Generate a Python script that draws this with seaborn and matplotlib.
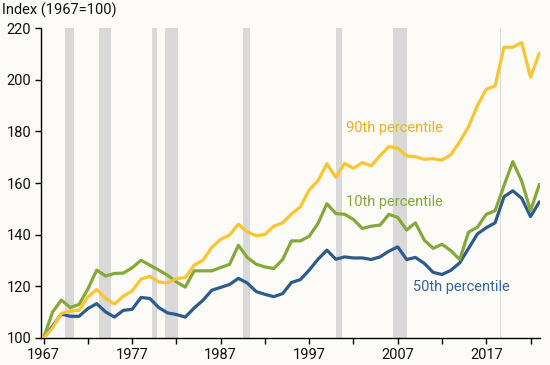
import numpy as np
import pandas as pd
import matplotlib
matplotlib.use("Agg")
import matplotlib.pyplot as plt
import seaborn as sns

# index values (1967=100)
years = list(range(1967, 2024))
p90 = [100, 103.9, 109.5, 110.4, 110.7, 115.9, 118.8, 115.3, 113.1, 116.2,
       118.2, 122.8, 123.9, 121.7, 121.3, 123.0, 123.4, 128.2, 130.1, 135.1,
       138.2, 139.8, 144.1, 141.1, 139.6, 140.1, 143.3, 144.6, 148.0, 150.8,
       157.3, 160.9, 167.5, 162.2, 167.6, 165.7, 167.9, 166.7, 170.6, 174.1,
       173.5, 170.5, 170.2, 169.2, 169.4, 168.9, 171.0, 176.0, 181.8, 190.0,
       196.3, 197.6, 212.6, 212.6, 214.4, 201.0, 210.3]
p10 = [100, 110.0, 114.7, 111.8, 113.0, 119.0, 126.3, 124.0, 125.0, 125.1,
       127.2, 130.1, 128.2, 126.3, 124.3, 121.7, 119.7, 126.0, 126.0, 126.0,
       127.3, 128.5, 135.9, 131.2, 128.6, 127.5, 126.9, 130.4, 137.6, 137.6,
       139.4, 144.4, 152.0, 148.2, 147.9, 145.9, 142.4, 143.3, 143.7, 147.9,
       146.7, 141.8, 144.6, 137.9, 134.7, 136.3, 133.8, 130.4, 141.0, 142.9,
       147.9, 149.3, 159.0, 168.3, 160.8, 149.3, 159.5]
p50 = [100, 104.5, 109.3, 108.4, 108.4, 111.4, 113.3, 110.1, 108.1, 110.7,
       111.1, 115.7, 115.3, 111.8, 109.7, 109.1, 108.1, 111.6, 114.6, 118.5,
       119.6, 120.7, 123.1, 121.3, 118.0, 116.9, 116.0, 117.2, 121.5, 122.6,
       126.3, 130.5, 134.0, 130.5, 131.4, 131.0, 131.0, 130.4, 131.4, 133.6,
       135.3, 130.4, 131.2, 128.9, 125.4, 124.6, 126.2, 129.1, 134.7, 140.3,
       142.7, 144.6, 154.7, 157.0, 154.1, 147.0, 152.7]

# shaded recession periods as placed on the chart's axis
rec_start = [1969.45, 1973.25, 1979.25, 1980.7, 1989.5, 2000.0, 2006.5, 2018.5]
rec_end = [1970.45, 1974.6, 1979.8, 1982.2, 1990.3, 2000.65, 2008.05, 2018.7]

series = ["10th percentile", "50th percentile", "90th percentile"]
colors = {"90th percentile": "#FBC531", "10th percentile": "#84A83A",
          "50th percentile": "#2D5B8A"}
label_colors = {"90th percentile": "#EDB021", "10th percentile": "#84A83A",
                "50th percentile": "#3A6592"}
label_pos = {"90th percentile": (2001.1, 181.2),
             "10th percentile": (2001.2, 152.7),
             "50th percentile": (2008.7, 119.7)}

df = pd.DataFrame({"year": years, "90th percentile": p90,
                   "10th percentile": p10, "50th percentile": p50})
long = df.melt(id_vars="year", var_name="series", value_name="index")

sns.set_style("ticks")
plt.rcParams["font.family"] = ["Roboto", "DejaVu Sans"]
bg = "#FCFBF7"

fig = plt.figure(figsize=(5.5, 3.65), dpi=100, facecolor=bg)
ax = fig.add_axes([0.0745, 0.074, 0.907, 0.849], facecolor=bg)

for s, e in zip(rec_start, rec_end):
    ax.axvspan(s, e, color="#D9D9D9", lw=0, zorder=0)

sns.lineplot(data=long, x="year", y="index", hue="series",
             hue_order=["50th percentile", "10th percentile", "90th percentile"],
             palette=colors, linewidth=2.3, legend=False, ax=ax, zorder=3)

for name in series:
    x, y = label_pos[name]
    ax.text(x, y, name, color=label_colors[name], fontsize=10.5,
            va="center", ha="left")

ax.set_xlim(1966.7, 2023.05)
ax.set_ylim(100, 220)
ax.set_yticks(range(100, 221, 20))
ax.set_xticks(range(1967, 2023, 5), minor=False)
ax.set_xticklabels([str(y) if (y - 1967) % 10 == 0 else "" for y in range(1967, 2023, 5)])
ax.tick_params(axis="both", labelsize=10.5, colors="black", labelcolor="#111111",
               length=4, width=1, pad=3)
ax.set_xlabel("")
ax.set_ylabel("")
sns.despine(ax=ax)
for sp in ["left", "bottom"]:
    ax.spines[sp].set_color("black")
    ax.spines[sp].set_linewidth(1)

fig.text(0.003, 0.972, "Index (1967=100)", fontsize=10.5, color="#111111",
         va="center", ha="left")

fig.savefig("out.png", dpi=100, facecolor=bg)
